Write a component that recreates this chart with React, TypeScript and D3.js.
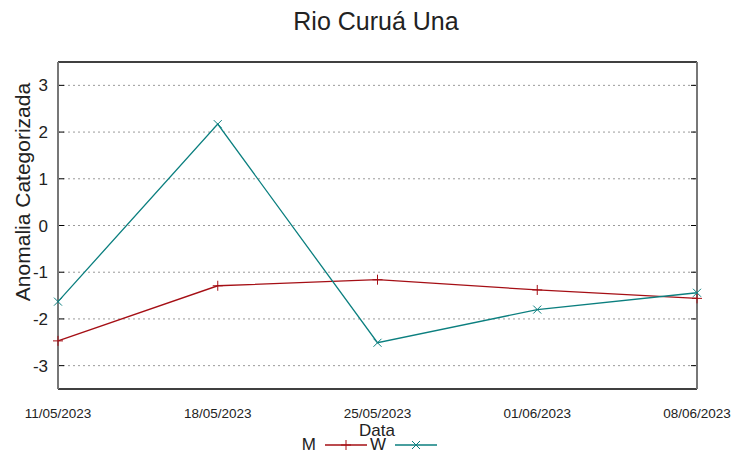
import React from "react";
import * as d3 from "d3";

const dates = ["11/05/2023", "18/05/2023", "25/05/2023", "01/06/2023", "08/06/2023"];
const seriesM = [-2.47, -1.29, -1.16, -1.38, -1.56];
const seriesW = [-1.63, 2.17, -2.51, -1.8, -1.44];
const yTicks = [-3, -2, -1, 0, 1, 2, 3];
const seriesNames = ["M", "W"];
const colors = ["#a50f15", "#0b7f7f"];

const W = 752;
const H = 459;
const m = { left: 58, right: 55, top: 62, bottom: 70 };

export default function App() {
  const x = d3.scalePoint<string>().domain(dates).range([m.left, W - m.right]);
  const y = d3.scaleLinear().domain([-3.5, 3.5]).range([H - m.bottom, m.top]);
  const line = d3
    .line<number>()
    .x((_, i) => x(dates[i]) as number)
    .y((d) => y(d));
  const font = "Liberation Sans, Arial, sans-serif";
  const series = [seriesM, seriesW];
  const x0 = m.left;
  const x1 = W - m.right;
  const y0 = m.top;
  const y1 = H - m.bottom;

  const marker = (k: number, cx: number, cy: number, c: string, key: string) =>
    k === 0 ? (
      <g key={key} stroke={c} strokeWidth={1}>
        <line x1={cx - 5} x2={cx + 5} y1={cy} y2={cy} />
        <line x1={cx} x2={cx} y1={cy - 5} y2={cy + 5} />
      </g>
    ) : (
      <g key={key} stroke={c} strokeWidth={1}>
        <line x1={cx - 4} x2={cx + 4} y1={cy - 4} y2={cy + 4} />
        <line x1={cx - 4} x2={cx + 4} y1={cy + 4} y2={cy - 4} />
      </g>
    );

  return (
    <svg
      width={W}
      height={H}
      style={{ position: "absolute", left: 0, top: 0, background: "#fff" }}
      fontFamily={font}
    >
      <rect width={W} height={H} fill="#fff" />
      <text x={376} y={30} textAnchor="middle" fontSize={25} fill="#222">
        Rio Curuá Una
      </text>
      {yTicks.map((t) => (
        <g key={t}>
          <line
            x1={x0}
            x2={x1}
            y1={y(t)}
            y2={y(t)}
            stroke="#9a9a9a"
            strokeWidth={1}
            strokeDasharray="2,3"
          />
          <line x1={x0} x2={x0 + 6} y1={y(t)} y2={y(t)} stroke="#000" />
          <line x1={x1 - 6} x2={x1} y1={y(t)} y2={y(t)} stroke="#000" />
          <text
            x={x0 - 10}
            y={y(t) + 6}
            textAnchor="end"
            fontSize={17}
            fill="#222"
          >
            {t}
          </text>
        </g>
      ))}
      <line x1={x0} x2={x1} y1={y0} y2={y0} stroke="#000" strokeWidth={1.5} />
      <line x1={x0} x2={x1} y1={y1} y2={y1} stroke="#000" strokeWidth={1.5} />
      <line x1={x0} x2={x0} y1={y0} y2={y1} stroke="#777" strokeWidth={2} />
      <line x1={x1} x2={x1} y1={y0} y2={y1} stroke="#777" strokeWidth={2} />
      {dates.map((d) => (
        <text
          key={d}
          x={x(d) as number}
          y={418}
          textAnchor="middle"
          fontSize={13.5}
          fill="#222"
        >
          {d}
        </text>
      ))}
      <text x={377} y={436} textAnchor="middle" fontSize={17} fill="#222">
        Data
      </text>
      <text
        transform={`translate(30,192) rotate(-90)`}
        textAnchor="middle"
        fontSize={21}
        fill="#222"
      >
        Anomalia Categorizada
      </text>
      {series.map((s, k) => (
        <g key={k}>
          <path d={line(s) || ""} fill="none" stroke={colors[k]} strokeWidth={1.3} />
          {s.map((v, i) =>
            marker(k, x(dates[i]) as number, y(v), colors[k], `${k}-${i}`)
          )}
        </g>
      ))}
      {seriesNames.map((n, k) => {
        const lx = 325 + k * 70;
        return (
          <g key={n}>
            <text x={lx - 9} y={450} textAnchor="end" fontSize={17} fill="#222">
              {n}
            </text>
            <line x1={lx} x2={lx + 42} y1={445} y2={445} stroke={colors[k]} strokeWidth={1.3} />
            {marker(k, lx + 21, 445, colors[k], `lg-${k}`)}
          </g>
        );
      })}
    </svg>
  );
}
